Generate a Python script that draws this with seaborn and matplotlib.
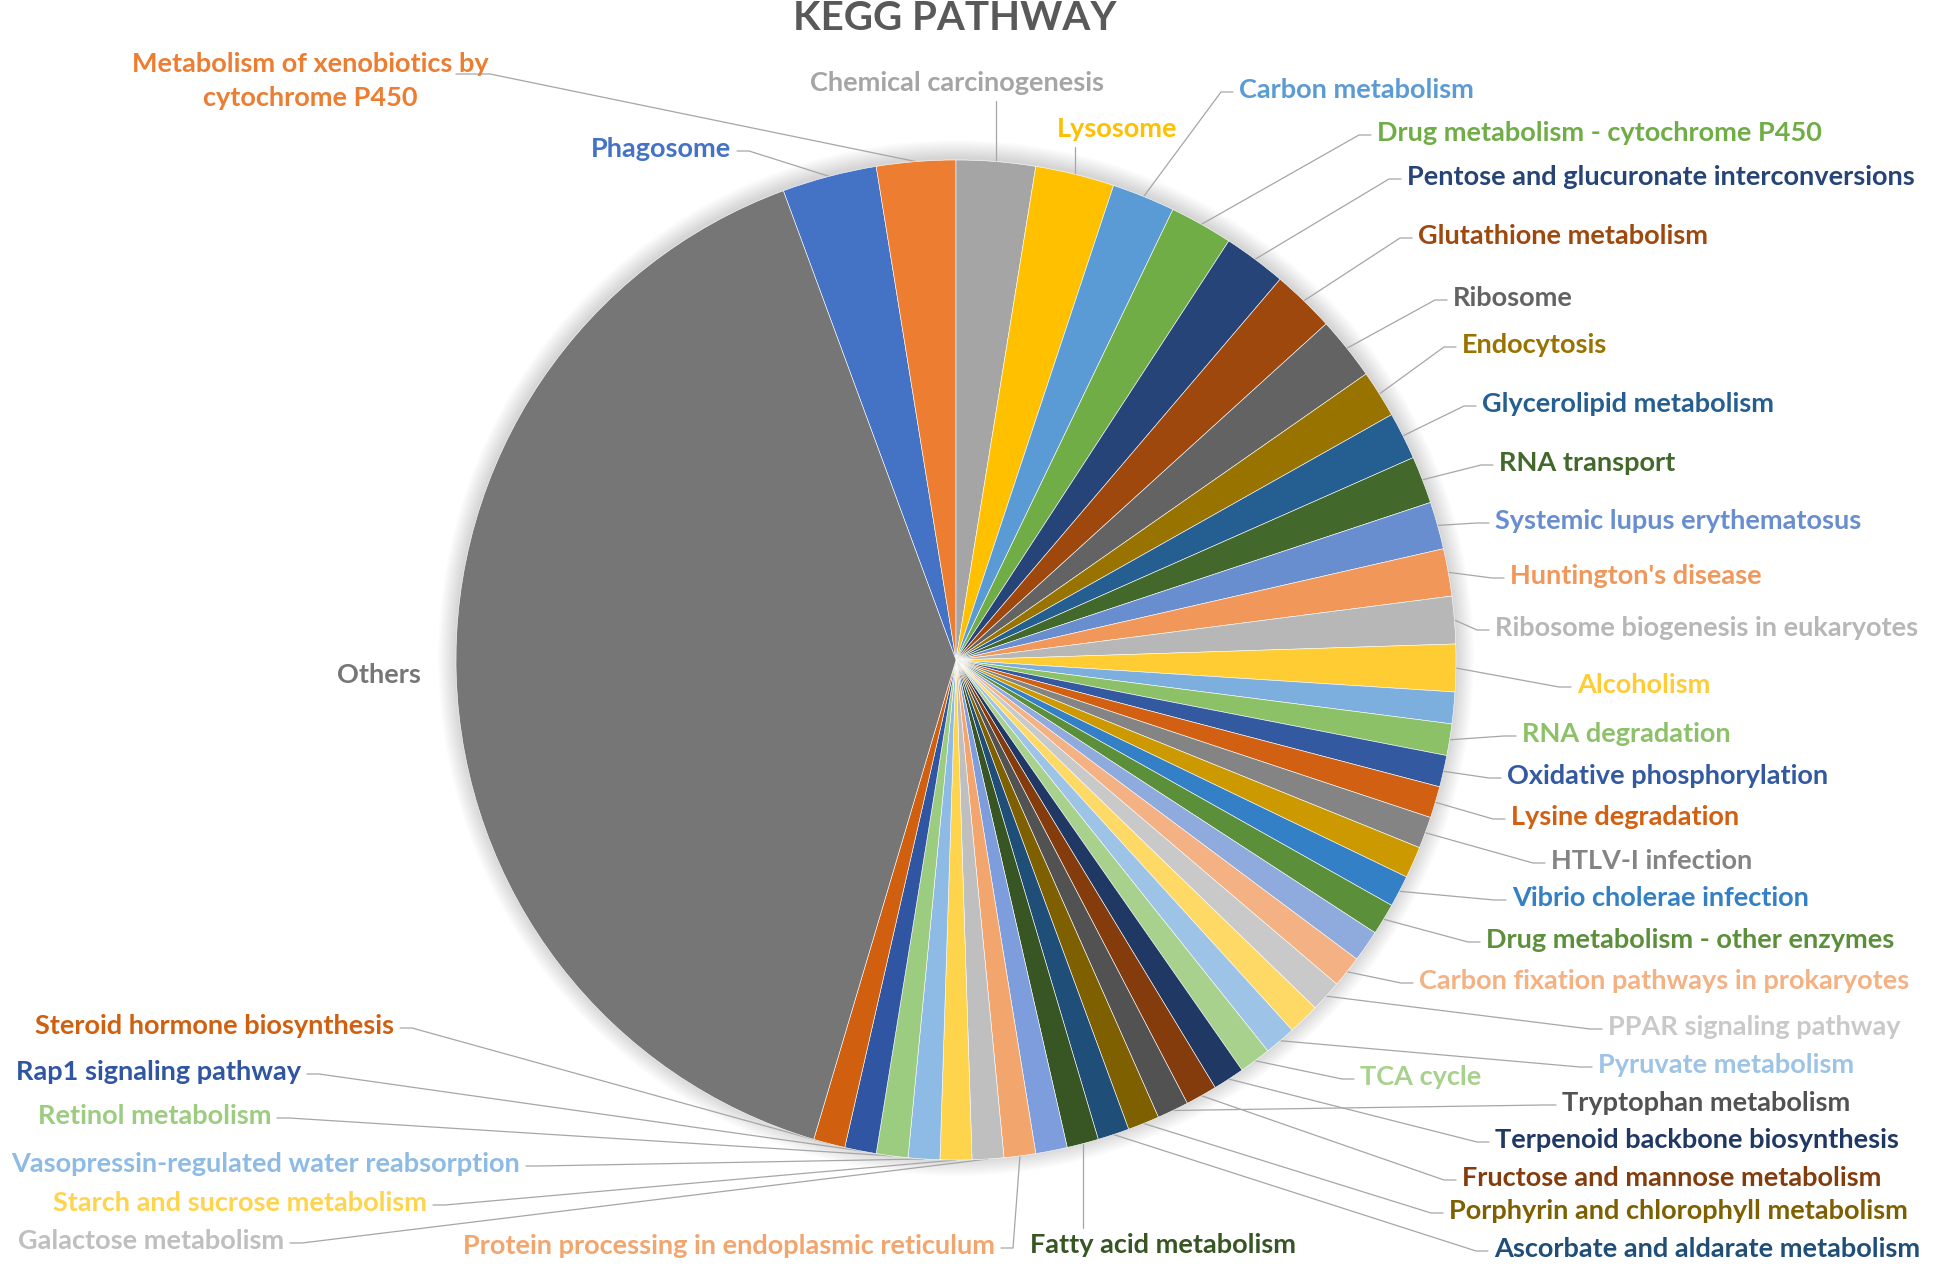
import numpy as np
import matplotlib
matplotlib.use('Agg')
import matplotlib.pyplot as plt
from matplotlib.patches import Circle
import seaborn as sns

sns.set_theme(style='white')
plt.rcParams['font.family'] = ['Lato', 'DejaVu Sans']

# pathway names (data order, '' = slice without a visible label)
pathways = ['Phagosome', 'Metabolism of xenobiotics by\ncytochrome P450', 'Chemical carcinogenesis',
            'Lysosome', 'Carbon metabolism', 'Drug metabolism - cytochrome P450',
            'Pentose and glucuronate interconversions', 'Glutathione metabolism', 'Ribosome',
            'Endocytosis', 'Glycerolipid metabolism', 'RNA transport', 'Systemic lupus erythematosus',
            "Huntington's disease", 'Ribosome biogenesis in eukaryotes', 'Alcoholism', '',
            'RNA degradation', 'Oxidative phosphorylation', 'Lysine degradation', 'HTLV-I infection', '',
            'Vibrio cholerae infection', 'Drug metabolism - other enzymes', '',
            'Carbon fixation pathways in prokaryotes', 'PPAR signaling pathway', '',
            'Pyruvate metabolism', 'TCA cycle', 'Terpenoid backbone biosynthesis',
            'Fructose and mannose metabolism', 'Tryptophan metabolism',
            'Porphyrin and chlorophyll metabolism', 'Ascorbate and aldarate metabolism',
            'Fatty acid metabolism', '', 'Protein processing in endoplasmic reticulum',
            'Galactose metabolism', 'Starch and sucrose metabolism',
            'Vasopressin-regulated water reabsorption', 'Retinol metabolism',
            'Rap1 signaling pathway', 'Steroid hormone biosynthesis', 'Others']

# gene counts per pathway
counts = [6, 5, 5, 5, 4, 4, 4, 4, 4, 3, 3, 3, 3, 3, 3, 3,
          2, 2, 2, 2, 2, 2, 2, 2, 2, 2, 2, 2, 2, 2,
          2, 2, 2, 2, 2, 2, 2, 2, 2, 2, 2, 2, 2, 2,
          78]

# Excel-like slice colours
colors = ['#4472C4', '#ED7D31', '#A5A5A5', '#FFC000', '#5B9BD5', '#70AD47',
          '#264478', '#9E480E', '#636363', '#997300', '#255E91', '#43682B',
          '#698ED0', '#F1975A', '#B7B7B7', '#FFCD33', '#7CAFDD', '#8CC168',
          '#335AA1', '#D26012', '#848484', '#CC9A00', '#3380C6', '#5B8F3A',
          '#8FAADC', '#F4B183', '#C9C9C9', '#FFD966', '#9DC3E6', '#A9D18E',
          '#203864', '#843C0C', '#525252', '#7F6000', '#1F4E79', '#375623',
          '#7D9DDC', '#F3A56E', '#BFBFBF', '#FFD44D', '#8DBBE5', '#9CCC7F',
          '#2F55A3', '#D0600F', '#767676']

# label layout in pixels (y measured from the top): style, x, y
label_pos = {
    'Phagosome': ('left', 731, 149),
    'Metabolism of xenobiotics by\ncytochrome P450': ('xeno', 310, 81),
    'Chemical carcinogenesis': ('top', 957, 83),
    'Lysosome': ('top', 1117, 129),
    'Carbon metabolism': ('right', 1239, 90),
    'Drug metabolism - cytochrome P450': ('right', 1377, 133),
    'Pentose and glucuronate interconversions': ('right', 1407, 177),
    'Glutathione metabolism': ('right', 1418, 236),
    'Ribosome': ('right', 1453, 298),
    'Endocytosis': ('right', 1462, 345),
    'Glycerolipid metabolism': ('right', 1482, 404),
    'RNA transport': ('right', 1499, 463),
    'Systemic lupus erythematosus': ('right', 1495, 521),
    "Huntington's disease": ('right', 1510, 576),
    'Ribosome biogenesis in eukaryotes': ('right', 1495, 628),
    'Alcoholism': ('right', 1577, 685),
    'RNA degradation': ('right', 1522, 734),
    'Oxidative phosphorylation': ('right', 1507, 776),
    'Lysine degradation': ('right', 1511, 817),
    'HTLV-I infection': ('right', 1551, 861),
    'Vibrio cholerae infection': ('right', 1512, 898),
    'Drug metabolism - other enzymes': ('right', 1486, 940),
    'Carbon fixation pathways in prokaryotes': ('right', 1419, 981),
    'PPAR signaling pathway': ('right', 1608, 1027),
    'Pyruvate metabolism': ('right', 1598, 1065),
    'TCA cycle': ('right', 1360, 1077),
    'Tryptophan metabolism': ('right', 1562, 1103),
    'Terpenoid backbone biosynthesis': ('right', 1495, 1140),
    'Fructose and mannose metabolism': ('right', 1462, 1178),
    'Porphyrin and chlorophyll metabolism': ('right', 1449, 1211),
    'Ascorbate and aldarate metabolism': ('right', 1494, 1249),
    'Fatty acid metabolism': ('bottom', 1030, 1245),
    'Protein processing in endoplasmic reticulum': ('left', 995, 1246),
    'Galactose metabolism': ('left', 284, 1241),
    'Starch and sucrose metabolism': ('left', 427, 1203),
    'Vasopressin-regulated water reabsorption': ('left', 520, 1164),
    'Retinol metabolism': ('left', 271, 1116),
    'Rap1 signaling pathway': ('left', 301, 1072),
    'Steroid hormone biosynthesis': ('left', 394, 1026),
    'Others': ('plain', 379, 675),
}

W, H = 1950, 1269
cx, cy, R = 956, 660, 500
fs = 19.5

fig = plt.figure(figsize=(W / 100, H / 100), dpi=100)
ax = fig.add_axes([0, 0, 1, 1])

# soft shadow around the pie
for i in range(14):
    ax.add_patch(Circle((cx, H - cy + 2), R + 1 + i * 1.3, color='black', alpha=0.010, lw=0, zorder=0))

# first two slices sit left of 12 o'clock
start = 90 + sum(counts[:2]) / sum(counts) * 360
wedges, _ = ax.pie(counts, colors=colors, radius=R, center=(cx, H - cy), startangle=start,
                   counterclock=False, wedgeprops=dict(edgecolor='white', linewidth=0.4))
for w in wedges:
    w.set_zorder(2)

line_kw = dict(color='#A6A6A6', lw=0.9, zorder=1)
for w, name, col in zip(wedges, pathways, colors):
    if not name:
        continue
    style, lx, ly = label_pos[name]
    ang = np.deg2rad((w.theta1 + w.theta2) / 2)
    px, py = cx + R * np.cos(ang), (H - cy) + R * np.sin(ang)
    ty = H - ly
    if style == 'right':
        ax.plot([px, lx - 18, lx - 6], [py, ty - 2, ty - 2], **line_kw)
        ax.text(lx, ty, name, ha='left', va='center', color=col, fontsize=fs, fontweight='bold')
    elif style == 'left':
        ax.plot([px, lx + 18, lx + 6], [py, ty - 2, ty - 2], **line_kw)
        ax.text(lx, ty, name, ha='right', va='center', color=col, fontsize=fs, fontweight='bold')
    elif style == 'top':
        ax.plot([px, px], [py, ty - 18], **line_kw)
        ax.text(lx, ty, name, ha='center', va='center', color=col, fontsize=fs, fontweight='bold')
    elif style == 'bottom':
        ax.plot([px, px], [py, ty + 17], **line_kw)
        ax.text(lx, ty, name, ha='left', va='center', color=col, fontsize=fs, fontweight='bold')
    elif style == 'xeno':
        ax.plot([px, 490, 456], [py, H - 74, H - 74], **line_kw)
        ax.text(lx, ty, name, ha='center', va='center', color=col, fontsize=fs, fontweight='bold',
                multialignment='center', linespacing=1.5)
    else:
        ax.text(lx, ty, name, ha='center', va='center', color=col, fontsize=fs, fontweight='bold')

ax.text(955, H - 19, 'KEGG PATHWAY', ha='center', va='center', color='#595959',
        fontsize=29, fontweight='bold')

ax.set_xlim(0, W)
ax.set_ylim(0, H)
ax.set_aspect('equal')
ax.axis('off')

fig.savefig('out.png', dpi=100, facecolor='white')
